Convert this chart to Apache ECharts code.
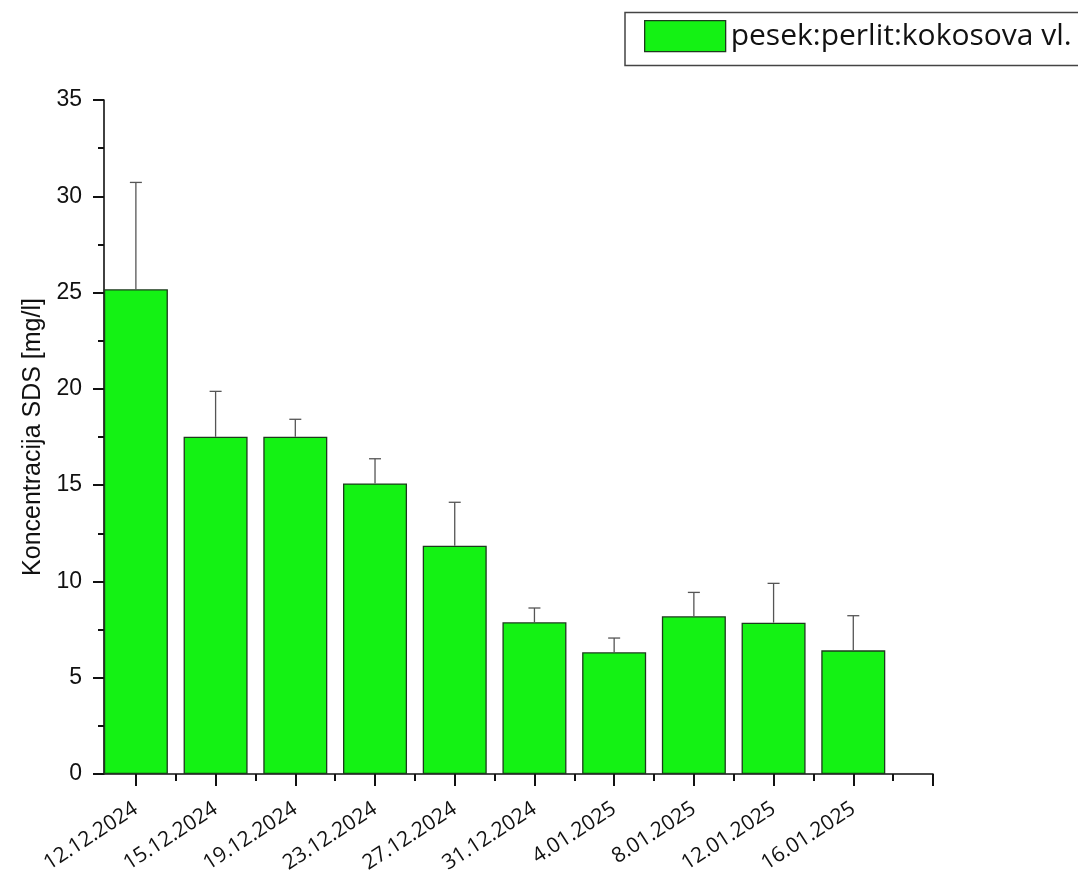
<!DOCTYPE html>
<html>
<head>
<meta charset="utf-8">
<script src="https://cdn.jsdelivr.net/npm/echarts@6/dist/echarts.min.js"></script>
<style>
  html, body { margin: 0; padding: 0; background: #fff; }
  #chart { width: 1078px; height: 876px; }
</style>
</head>
<body>
<div id="chart"></div>
<script>
// data
const categories = ["12.12.2024", "15.12.2024", "19.12.2024", "23.12.2024", "27.12.2024",
  "31.12.2024", "4.01.2025", "8.01.2025", "12.01.2025", "16.01.2025"];
const means = [25.17, 17.51, 17.51, 15.09, 11.85, 7.88, 6.32, 8.19, 7.86, 6.42];
const errTops = [30.72, 19.87, 18.42, 16.37, 14.11, 8.62, 7.06, 9.43, 9.90, 8.22];
const yTicks = [0, 5, 10, 15, 20, 25, 30, 35];
const seriesName = "pesek:perlit:kokosova vl.";

const positions = categories.map((c, i) => i + 1);
const majorTicks = positions.concat([categories.length + 1]);
const minorTicks = positions.map(p => p + 0.5);

const chart = echarts.init(document.getElementById("chart"));

const axisBase = {
  type: "value",
  min: 0.6,
  max: categories.length + 1,
  position: "bottom",
  splitLine: { show: false },
  axisLine: { show: true, onZero: false, lineStyle: { color: "#111", width: 1.6 } }
};

const option = {
  backgroundColor: "#fff",
  animation: false,
  grid: { left: 104, right: 145, top: 100, bottom: 102, containLabel: false },
  // legend frame runs off the right edge, like in the original
  graphic: [{
    type: "rect",
    shape: { x: 625, y: 12.5, width: 500, height: 53 },
    style: { fill: "none", stroke: "#444", lineWidth: 1.5 },
    z: 0
  }],
  legend: {
    left: 625,
    top: 12,
    orient: "horizontal",
    data: [seriesName],
    icon: "rect",
    itemWidth: 81,
    itemHeight: 31,
    padding: [8, 10, 12, 19],
    itemStyle: { borderColor: "#1d3a1d", borderWidth: 1.3 },
    textStyle: { fontFamily: "Open Sans", fontSize: 30, color: "#111" }
  },
  xAxis: [
    Object.assign({}, axisBase, {
      axisTick: { show: true, length: 12, customValues: majorTicks, lineStyle: { color: "#111", width: 2 } },
      axisLabel: {
        show: true,
        customValues: positions,
        rotate: 33,
        margin: 33,
        fontFamily: "Open Sans",
        fontSize: 21,
        color: "#111",
        formatter: v => categories[Math.round(v) - 1] || ""
      }
    }),
    Object.assign({}, axisBase, {
      axisLine: { show: false },
      axisTick: { show: true, length: 7, customValues: minorTicks, lineStyle: { color: "#111", width: 2 } },
      axisLabel: { show: false }
    })
  ],
  yAxis: {
    type: "value",
    min: yTicks[0],
    max: yTicks[yTicks.length - 1],
    interval: 5,
    name: "Koncentracija SDS [mg/l]",
    nameLocation: "middle",
    nameGap: 56,
    nameTextStyle: { fontFamily: "Liberation Sans", fontSize: 25, color: "#111" },
    splitLine: { show: false },
    axisLine: { show: true, lineStyle: { color: "#111", width: 1.6 } },
    axisTick: { show: true, length: 11, lineStyle: { color: "#111", width: 2 } },
    minorTick: { show: true, splitNumber: 2, length: 6, lineStyle: { color: "#111", width: 2 } },
    axisLabel: { margin: 22, fontFamily: "Liberation Sans", fontSize: 23, color: "#111" }
  },
  series: [
    {
      name: seriesName,
      type: "bar",
      barWidth: 64,
      xAxisIndex: 0,
      itemStyle: { color: "#14F214", borderColor: "#1d3a1d", borderWidth: 1.3 },
      data: positions.map((p, i) => [p, means[i]])
    },
    {
      name: "err",
      type: "custom",
      xAxisIndex: 0,
      z: 3,
      renderItem: function (params, api) {
        const x = api.value(0);
        const base = api.coord([x, api.value(1)]);
        const top = api.coord([x, api.value(2)]);
        const half = 6;
        const style = { stroke: "#555", lineWidth: 1.3 };
        return {
          type: "group",
          children: [
            { type: "line", shape: { x1: base[0], y1: base[1], x2: top[0], y2: top[1] }, style: style },
            { type: "line", shape: { x1: top[0] - half, y1: top[1], x2: top[0] + half, y2: top[1] }, style: style }
          ]
        };
      },
      data: positions.map((p, i) => [p, means[i], errTops[i]])
    }
  ]
};

chart.setOption(option);
</script>
</body>
</html>
